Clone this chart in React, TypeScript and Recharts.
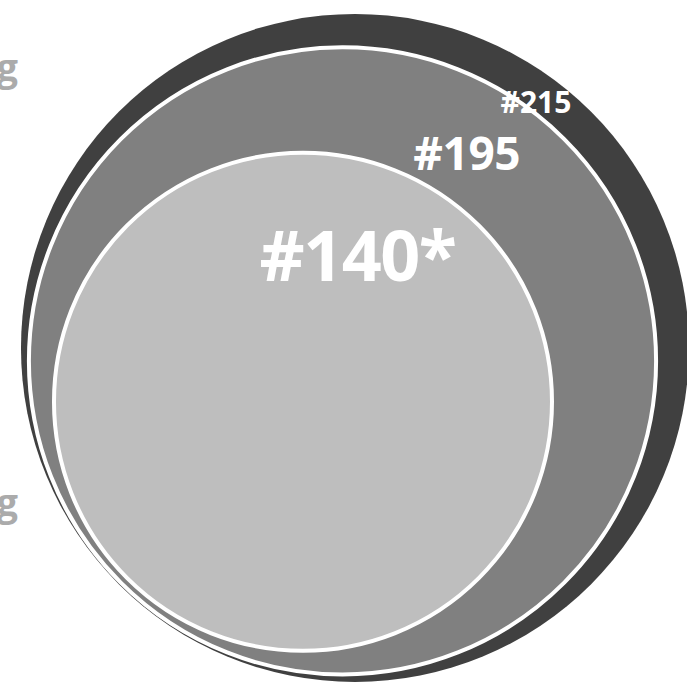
import React from 'react';
import { ScatterChart, Scatter, XAxis, YAxis, ZAxis } from 'recharts';

// Rank values, largest ring first, and the labels printed on them
const rankValues = [215, 195, 140];
const rankLabels = ['#215', '#195', '#140*'];

// Row captions along the left edge (only their last letter fits in the frame)
const sideLabels = ['g', 'g'];

const WIDTH = 687;
const HEIGHT = 688;

// Ring styling, outer to inner
const RING_FILLS = ['#404040', '#808080', '#bebebe'];
const RING_STROKES = ['none', '#ffffff', '#ffffff'];
const LABEL_SIZES = [30, 46, 70];
const LABEL_SPACING = [0, -0.5, -1.5];
// Label baseline position relative to ring centre, in ring radii
const LABEL_OFFSETS: [number, number][] = [
  [0.542, -0.704],
  [0.396, -0.61],
  [0.219, -0.485],
];
const SIDE_LABEL_Y = [81, 516];

// All rings hang from one shared point near the lower-left and grow up and to
// the right along NEST_DIR; NEST_PULL < 1 leaves a sliver between the rims.
const ANCHOR = { x: 150.7, y: 559.3 };
const NEST_DIR = { x: 0.695, y: -0.719 };
const NEST_PULL = 0.88;

const table = rankValues.map((v, i) => ({
  x: ANCHOR.x,
  y: ANCHOR.y,
  z: v,
  label: rankLabels[i],
  idx: i,
}));

function ringGeometry(p: any) {
  const size = typeof p.size === 'number' ? p.size : Math.PI * (p.width / 2) ** 2;
  const r = Math.sqrt(Math.max(size, 0) / Math.PI);
  return {
    r,
    x: p.cx + NEST_PULL * r * NEST_DIR.x,
    y: p.cy + NEST_PULL * r * NEST_DIR.y,
  };
}

const RingShape = (p: any) => {
  const i = p.payload.idx;
  const g = ringGeometry(p);
  return (
    <circle
      cx={g.x}
      cy={g.y}
      r={g.r}
      fill={RING_FILLS[i]}
      stroke={RING_STROKES[i]}
      strokeWidth={RING_STROKES[i] === 'none' ? 0 : 4}
    />
  );
};

const LabelShape = (p: any) => {
  const i = p.payload.idx;
  const g = ringGeometry(p);
  const [ox, oy] = LABEL_OFFSETS[i];
  return (
    <text
      x={g.x + ox * g.r}
      y={g.y + oy * g.r}
      textAnchor="middle"
      fill="#ffffff"
      fontFamily="'Open Sans', sans-serif"
      fontWeight={700}
      fontSize={LABEL_SIZES[i]}
      letterSpacing={LABEL_SPACING[i]}
    >
      {p.payload.label}
    </text>
  );
};

export default function App() {
  return (
    <div style={{ position: 'absolute', left: 0, top: 0, width: WIDTH, height: HEIGHT, background: '#ffffff' }}>
      <ScatterChart width={WIDTH} height={HEIGHT} margin={{ top: 0, right: 0, bottom: 0, left: 0 }}>
        <XAxis type="number" dataKey="x" domain={[0, WIDTH]} hide />
        <YAxis type="number" dataKey="y" domain={[0, HEIGHT]} reversed hide />
        <ZAxis
          type="number"
          dataKey="z"
          domain={[140, 215]}
          range={[Math.PI * 249 * 249, Math.PI * 334 * 334]}
        />
        {table.map((row) => (
          <Scatter
            key={row.label}
            data={[row]}
            shape={RingShape}
            isAnimationActive={false}
          />
        ))}
        <Scatter data={table} shape={LabelShape} isAnimationActive={false} />
      </ScatterChart>
      <svg
        width={WIDTH}
        height={HEIGHT}
        style={{ position: 'absolute', left: 0, top: 0, pointerEvents: 'none' }}
      >
        {sideLabels.map((t, i) => (
          <text
            key={i}
            x={18}
            y={SIDE_LABEL_Y[i]}
            textAnchor="end"
            fill="#ababab"
            fontFamily="'Open Sans', sans-serif"
            fontWeight={700}
            fontSize={38}
          >
            {t}
          </text>
        ))}
      </svg>
    </div>
  );
}
